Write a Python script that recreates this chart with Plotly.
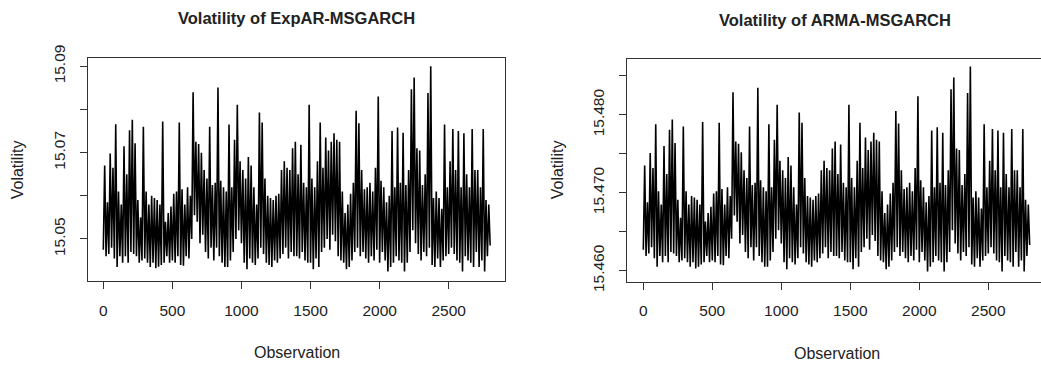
import plotly.graph_objects as go

# Observation index (every 10th observation)
observation = list(range(0, 2801, 10))

# Volatility of ExpAR-MSGARCH
expar_vol = [
    15.0475, 15.0670, 15.0460, 15.0585, 15.0465, 15.0698, 15.0480, 15.0665, 15.0455, 15.0766,
    15.0435, 15.0610, 15.0460, 15.0580, 15.0445, 15.0715, 15.0460, 15.0650, 15.0445, 15.0752,
    15.0470, 15.0776, 15.0465, 15.0722, 15.0460, 15.0590, 15.0445, 15.0550, 15.0450, 15.0760,
    15.0455, 15.0610, 15.0445, 15.0580, 15.0435, 15.0600, 15.0445, 15.0595, 15.0432, 15.0590,
    15.0436, 15.0580, 15.0440, 15.0772, 15.0445, 15.0540, 15.0460, 15.0560, 15.0445, 15.0575,
    15.0450, 15.0605, 15.0445, 15.0610, 15.0460, 15.0770, 15.0440, 15.0615, 15.0438, 15.0580,
    15.0460, 15.0620, 15.0455, 15.0600, 15.0500, 15.0840, 15.0555, 15.0725, 15.0540, 15.0720,
    15.0490, 15.0700, 15.0510, 15.0660, 15.0470, 15.0640, 15.0455, 15.0760, 15.0480, 15.0625,
    15.0450, 15.0630, 15.0480, 15.0851, 15.0460, 15.0635, 15.0445, 15.0620, 15.0435, 15.0610,
    15.0435, 15.0765, 15.0450, 15.0620, 15.0470, 15.0730, 15.0500, 15.0811, 15.0520, 15.0680,
    15.0490, 15.0660, 15.0445, 15.0640, 15.0430, 15.0690, 15.0455, 15.0670, 15.0445, 15.0620,
    15.0440, 15.0580, 15.0455, 15.0793, 15.0480, 15.0770, 15.0465, 15.0640, 15.0445, 15.0600,
    15.0440, 15.0595, 15.0435, 15.0590, 15.0450, 15.0600, 15.0445, 15.0605, 15.0455, 15.0660,
    15.0465, 15.0680, 15.0480, 15.0665, 15.0455, 15.0660, 15.0470, 15.0710, 15.0460, 15.0725,
    15.0460, 15.0650, 15.0455, 15.0718, 15.0470, 15.0630, 15.0450, 15.0620, 15.0445, 15.0811,
    15.0445, 15.0640, 15.0430, 15.0620, 15.0455, 15.0680, 15.0435, 15.0770, 15.0470, 15.0665,
    15.0480, 15.0735, 15.0500, 15.0705, 15.0475, 15.0725, 15.0510, 15.0745, 15.0495, 15.0730,
    15.0460, 15.0725, 15.0450, 15.0610, 15.0445, 15.0560, 15.0430, 15.0580, 15.0435, 15.0605,
    15.0450, 15.0630, 15.0470, 15.0797, 15.0480, 15.0768, 15.0460, 15.0660, 15.0470, 15.0615,
    15.0455, 15.0620, 15.0445, 15.0630, 15.0460, 15.0610, 15.0450, 15.0665, 15.0475, 15.0830,
    15.0445, 15.0635, 15.0470, 15.0620, 15.0450, 15.0585, 15.0425, 15.0600, 15.0435, 15.0750,
    15.0445, 15.0620, 15.0460, 15.0758, 15.0450, 15.0630, 15.0445, 15.0746, 15.0425, 15.0625,
    15.0445, 15.0660, 15.0470, 15.0847, 15.0520, 15.0874, 15.0490, 15.0710, 15.0465, 15.0705,
    15.0450, 15.0625, 15.0470, 15.0650, 15.0460, 15.0838, 15.0480, 15.0900, 15.0440, 15.0595,
    15.0435, 15.0610, 15.0455, 15.0595, 15.0435, 15.0570, 15.0450, 15.0765, 15.0460, 15.0620,
    15.0465, 15.0680, 15.0480, 15.0755, 15.0465, 15.0660, 15.0450, 15.0750, 15.0445, 15.0620,
    15.0425, 15.0745, 15.0460, 15.0650, 15.0450, 15.0620, 15.0445, 15.0755, 15.0435, 15.0660,
    15.0470, 15.0660, 15.0435, 15.0620, 15.0450, 15.0755, 15.0425, 15.0590, 15.0460, 15.0580,
    15.0485,
]

# Volatility of ARMA-MSGARCH
arma_vol = [
    15.4627, 15.4735, 15.4619, 15.4688, 15.4622, 15.4751, 15.4630, 15.4732, 15.4616, 15.4788,
    15.4605, 15.4702, 15.4619, 15.4685, 15.4611, 15.4760, 15.4619, 15.4724, 15.4611, 15.4781,
    15.4624, 15.4794, 15.4622, 15.4764, 15.4619, 15.4691, 15.4611, 15.4668, 15.4613, 15.4785,
    15.4616, 15.4702, 15.4611, 15.4685, 15.4605, 15.4696, 15.4611, 15.4694, 15.4603, 15.4691,
    15.4605, 15.4685, 15.4608, 15.4791, 15.4611, 15.4663, 15.4619, 15.4674, 15.4611, 15.4682,
    15.4613, 15.4699, 15.4611, 15.4702, 15.4619, 15.4790, 15.4608, 15.4705, 15.4607, 15.4685,
    15.4619, 15.4707, 15.4616, 15.4696, 15.4641, 15.4829, 15.4671, 15.4766, 15.4663, 15.4763,
    15.4635, 15.4752, 15.4646, 15.4729, 15.4624, 15.4719, 15.4616, 15.4785, 15.4630, 15.4710,
    15.4613, 15.4713, 15.4630, 15.4835, 15.4619, 15.4716, 15.4611, 15.4707, 15.4605, 15.4702,
    15.4605, 15.4788, 15.4613, 15.4707, 15.4624, 15.4768, 15.4641, 15.4813, 15.4652, 15.4741,
    15.4635, 15.4729, 15.4611, 15.4719, 15.4602, 15.4746, 15.4616, 15.4735, 15.4611, 15.4707,
    15.4608, 15.4685, 15.4616, 15.4803, 15.4630, 15.4790, 15.4622, 15.4719, 15.4611, 15.4696,
    15.4608, 15.4694, 15.4605, 15.4691, 15.4613, 15.4696, 15.4611, 15.4699, 15.4616, 15.4729,
    15.4622, 15.4741, 15.4630, 15.4732, 15.4616, 15.4729, 15.4624, 15.4757, 15.4619, 15.4766,
    15.4619, 15.4724, 15.4616, 15.4762, 15.4624, 15.4713, 15.4613, 15.4707, 15.4611, 15.4813,
    15.4611, 15.4719, 15.4602, 15.4707, 15.4616, 15.4741, 15.4605, 15.4790, 15.4624, 15.4732,
    15.4630, 15.4771, 15.4641, 15.4755, 15.4627, 15.4766, 15.4646, 15.4777, 15.4638, 15.4768,
    15.4619, 15.4766, 15.4613, 15.4702, 15.4611, 15.4674, 15.4602, 15.4685, 15.4605, 15.4699,
    15.4613, 15.4713, 15.4624, 15.4805, 15.4630, 15.4789, 15.4619, 15.4729, 15.4624, 15.4705,
    15.4616, 15.4707, 15.4611, 15.4713, 15.4619, 15.4702, 15.4613, 15.4732, 15.4627, 15.4824,
    15.4611, 15.4716, 15.4624, 15.4707, 15.4613, 15.4688, 15.4599, 15.4696, 15.4605, 15.4780,
    15.4611, 15.4707, 15.4619, 15.4784, 15.4613, 15.4713, 15.4611, 15.4777, 15.4599, 15.4710,
    15.4611, 15.4729, 15.4624, 15.4833, 15.4652, 15.4848, 15.4635, 15.4757, 15.4622, 15.4755,
    15.4613, 15.4710, 15.4624, 15.4724, 15.4619, 15.4828, 15.4630, 15.4862, 15.4608, 15.4694,
    15.4605, 15.4702, 15.4616, 15.4694, 15.4605, 15.4680, 15.4613, 15.4788, 15.4619, 15.4707,
    15.4622, 15.4741, 15.4630, 15.4782, 15.4622, 15.4729, 15.4613, 15.4780, 15.4611, 15.4707,
    15.4599, 15.4777, 15.4619, 15.4724, 15.4613, 15.4707, 15.4611, 15.4782, 15.4605, 15.4729,
    15.4624, 15.4729, 15.4605, 15.4707, 15.4613, 15.4782, 15.4599, 15.4691, 15.4619, 15.4685,
    15.4633,
]

x_ticks = [0, 500, 1000, 1500, 2000, 2500]
left_y_ticks = [15.05, 15.06, 15.07, 15.08, 15.09]
left_y_text = ["15.05", "", "15.07", "", "15.09"]
right_y_ticks = [15.460, 15.465, 15.470, 15.475, 15.480, 15.485]
right_y_text = ["15.460", "", "15.470", "", "15.480", ""]

W, H = 1041, 368
FONT = "Liberation Sans, Arial, sans-serif"
TXT = "#222222"
AX = "#333333"

fig = go.Figure()
fig.add_trace(go.Scatter(x=observation, y=expar_vol, mode="lines",
                         line=dict(color="black", width=1.6),
                         xaxis="x", yaxis="y", showlegend=False, hoverinfo="skip"))
fig.add_trace(go.Scatter(x=observation, y=arma_vol, mode="lines",
                         line=dict(color="black", width=1.6),
                         xaxis="x2", yaxis="y2", showlegend=False, hoverinfo="skip"))

common_x = dict(tickvals=x_ticks, ticks="outside", ticklen=7, tickwidth=1, tickcolor=AX,
                showline=True, linecolor=AX, linewidth=1.2, showgrid=False, zeroline=False,
                tickfont=dict(size=15.5, color=TXT, family=FONT), automargin=False,
                ticklabelstandoff=8)
common_y = dict(ticks="outside", ticklen=7, tickwidth=1, tickcolor=AX,
                showline=True, linecolor=AX, linewidth=1.2, showgrid=False, zeroline=False,
                tickfont=dict(size=15.5, color=TXT, family=FONT), automargin=False,
                tickangle=-90, ticklabelstandoff=9)

fig.update_layout(
    width=W, height=H,
    margin=dict(l=0, r=0, t=0, b=0),
    paper_bgcolor="white", plot_bgcolor="white",
    font=dict(family=FONT, color=TXT),
    xaxis=dict(domain=[88 / W, 505 / W], range=[-110.7, 2907.5], anchor="y", mirror=True, **common_x),
    yaxis=dict(domain=[1 - 281 / H, 1 - 57.7 / H], range=[15.04027, 15.09199], anchor="x",
               mirror=True, tickvals=left_y_ticks, ticktext=left_y_text, **common_y),
    xaxis2=dict(domain=[627.3 / W, 1.0], range=[-116, 2882], anchor="y2", mirror=True, **common_x),
    yaxis2=dict(domain=[1 - 281.7 / H, 1 - 59.3 / H], range=[15.45859, 15.48714], anchor="x2",
                mirror=False, tickvals=right_y_ticks, ticktext=right_y_text, **common_y),
)

annotations = [
    dict(text="<b>Volatility of ExpAR-MSGARCH</b>", x=296.5 / W, y=1 - 18 / H, font=dict(size=16.5)),
    dict(text="<b>Volatility of ARMA-MSGARCH</b>", x=835 / W, y=1 - 20 / H, font=dict(size=16.5)),
    dict(text="Observation", x=296.7 / W, y=1 - 352 / H, font=dict(size=16)),
    dict(text="Observation", x=836.7 / W, y=1 - 353 / H, font=dict(size=16)),
    dict(text="Volatility", x=18.3 / W, y=1 - 170 / H, textangle=-90, font=dict(size=16)),
    dict(text="Volatility", x=558.3 / W, y=1 - 170 / H, textangle=-90, font=dict(size=16)),
]
for a in annotations:
    a.update(xref="paper", yref="paper", xanchor="center", yanchor="middle",
             showarrow=False)
    a["font"].update(family=FONT, color=TXT)
fig.update_layout(annotations=annotations)

fig.write_html("out.html")
